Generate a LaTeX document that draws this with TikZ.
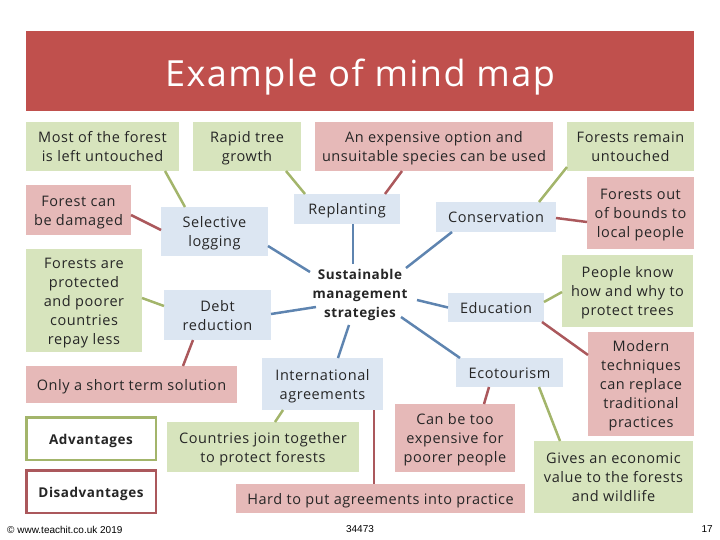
\documentclass[tikz,border=0pt]{standalone}
\usepackage{fontspec}
\setmainfont[LetterSpace=4]{Open Sans}
\newfontfamily\footfont{Liberation Sans}
\usepackage{xcolor}
\definecolor{TITLECOLOR}{HTML}{C0504D}
\definecolor{GREENCOLOR}{HTML}{D7E4BD}
\definecolor{PINKCOLOR}{HTML}{E6B9B8}
\definecolor{BLUECOLOR}{HTML}{DCE6F2}
\definecolor{GREENLINE}{HTML}{A3B56B}
\definecolor{PINKLINE}{HTML}{AB585C}
\definecolor{BLUELINE}{HTML}{5E84B0}
\newcommand{\topstrut}{\vrule height16.9pt depth0pt width0pt}
\usetikzlibrary{positioning}
\tikzset{
  text-style/.style = {
    align=center, text=black!85,
    font=\fontsize{14.5}{19}\selectfont,
    execute at end node=\strut
  },
  basic-style/.style = {
    rectangle, fill=#1, inner sep=0pt, outer sep=0pt, text-style
  },
  green-style/.style = {
    basic-style=GREENCOLOR
  },
  pink-style/.style = {
    basic-style=PINKCOLOR
  },
  blue-style/.style = {
    basic-style=BLUECOLOR
  },
  key-style/.style = {
    rectangle, draw=#1, line width=2.5pt, fill=white, outer sep=0pt,
    minimum width=129.5pt, minimum height=42.5pt, inner sep=0pt,
    text-style, font=\fontsize{13.5}{19}\selectfont\bfseries
  },
  foot-style/.style = {
    inner sep=0pt, font=\footfont\fontsize{10}{11}\selectfont
  },
  green-line/.style = {draw=GREENLINE, line width=2.5pt},
  pink-line/.style = {draw=PINKLINE, line width=2.5pt},
  blue-line/.style = {draw=BLUELINE, line width=2.5pt}
}
\begin{document}
\begin{tikzpicture}[x=1pt,y=-1pt]
    \useasboundingbox (0,0) rectangle (720,540);

    %%% title
    \node[rectangle,fill=TITLECOLOR,inner sep=0pt,outer sep=0pt,text=white,font=\fontsize{36}{44}\selectfont,
      text height=38pt,text depth=7pt,minimum width=668pt,minimum height=80pt] (title) at (360,71) {Example of mind map};

    %%% top row
    \node[green-style,below=11pt of title.south west,anchor=north west,minimum width=153pt,minimum height=49pt] (most) {\topstrut Most of the forest\\is left untouched};
    \node[green-style,right=14pt of most,minimum width=108pt,minimum height=49pt] (rapid) {\topstrut Rapid tree\\growth};
    \node[pink-style,right=14pt of rapid,minimum width=238pt,minimum height=49pt] (expensive) {\topstrut An expensive option and\\unsuitable species can be used};
    \node[green-style,right=14pt of expensive,minimum width=127pt,minimum height=49pt] (remain) {\topstrut Forests remain\\untouched};

    %%% left column
    \node[pink-style,below=14pt of most.south west,anchor=north west,minimum width=105pt,minimum height=50pt] (damaged) {\topstrut Forest can\\be damaged};
    \node[green-style,below=14pt of damaged.south west,anchor=north west,minimum width=116pt,minimum height=103pt] (protected) {\topstrut Forests are\\protected\\and poorer\\countries\\repay less};
    \node[pink-style,below=14pt of protected.south west,anchor=north west,minimum width=211pt,minimum height=37pt] (shortterm) {\topstrut Only a short term solution};

    %%% strategies
    \node[blue-style,below right=36pt and -18pt of most.south east,minimum width=107pt,minimum height=49pt] (selective) {\topstrut Selective\\logging};
    \node[blue-style,below right=34pt and 3pt of selective.south west,minimum width=107pt,minimum height=50pt] (debt) {\topstrut Debt\\reduction};
    \node[blue-style,below right=23pt and -7pt of rapid.south east,minimum width=106pt,minimum height=30pt] (replanting) {\topstrut Replanting};
    \node[blue-style,below right=31pt and -117pt of expensive.south east,minimum width=120pt,minimum height=30pt] (conservation) {\topstrut Conservation};
    \node[blue-style,below right=61pt and 12pt of conservation.south west,minimum width=96pt,minimum height=29pt] (education) {\topstrut Education};
    \node[blue-style,below right=36pt and 8pt of education.south west,minimum width=107pt,minimum height=29pt] (ecotourism) {\topstrut Ecotourism};
    \node[blue-style,below right=18pt and -9pt of debt.south east,minimum width=121pt,minimum height=52pt] (international) {\topstrut International\\agreements};

    %%% centre
    \node[text-style,inner sep=0pt,outer sep=0pt,minimum width=100pt,minimum height=63pt,
      font=\fontsize{13.5}{19}\selectfont\bfseries,below right=37.5pt and 16pt of replanting.south west] (sustainable) {\topstrut Sustainable\\management\\strategies};

    %%% right column
    \node[pink-style,below left=6pt and 0pt of remain.south east,minimum width=107pt,minimum height=72pt] (outbounds) {\topstrut Forests out\\of bounds to\\local people};
    \node[green-style,below left=6pt and 1pt of outbounds.south east,minimum width=131pt,minimum height=72pt] (people) {\topstrut People know\\how and why to\\protect trees};
    \node[pink-style,below left=5pt and -1pt of people.south east,minimum width=106pt,minimum height=104pt] (modern) {\topstrut Modern\\techniques\\can replace\\traditional\\practices};
    \node[green-style,below left=5pt and 1pt of modern.south east,minimum width=159pt,minimum height=72pt] (gives) {\topstrut Gives an economic\\value to the forests\\and wildlife};

    %%% bottom
    \node[key-style=GREENLINE,below right=14.25pt and 0.25pt of shortterm.south west] (advantages) {\topstrut Advantages};
    \node[key-style=PINKLINE,below=10.5pt of advantages] (disadvantages) {\topstrut Disadvantages};
    \node[green-style,below right=19pt and -70pt of shortterm.south east,minimum width=192pt,minimum height=50pt] (countries) {\topstrut Countries join together\\to protect forests};
    \node[pink-style,below right=17pt and -61pt of ecotourism.south west,minimum width=120pt,minimum height=68pt] (toodear) {\topstrut Can be too\\expensive for\\poorer people};
    \node[pink-style,below right=12pt and -123pt of countries.south east,minimum width=289pt,minimum height=29pt] (hard) {\topstrut Hard to put agreements into practice};

    %%% footer
    \node[foot-style,anchor=west] (copyright) at (7,529.5) {\textcopyright{} www.teachit.co.uk 2019};
    \node[foot-style] (code) at (360,529.5) {34473};
    \node[foot-style,anchor=east] (page) at (713,529.5) {17};

    %%% arrows
    % centre to strategies
    \draw[blue-line] ([xshift=-50pt,yshift=21pt]sustainable.center) -- ([yshift=-14.5pt]selective.east);
    \draw[blue-line] ([xshift=-7pt,yshift=29pt]sustainable.center) -- ([xshift=6pt]replanting.south);
    \draw[blue-line] ([xshift=-44pt,yshift=-14pt]sustainable.center) -- ([yshift=1pt]debt.east);
    \draw[blue-line] ([xshift=-11pt,yshift=-32pt]sustainable.center) -- ([xshift=15.5pt]international.north);
    \draw[blue-line] ([xshift=46pt,yshift=25pt]sustainable.center) -- ([xshift=-44pt]conservation.south);
    \draw[blue-line] ([xshift=57pt,yshift=-7pt]sustainable.center) -- (education.west);
    \draw[blue-line] ([xshift=41pt,yshift=-24pt]sustainable.center) -- ([xshift=-49.5pt]ecotourism.north);
    % advantages
    \draw[green-line] ([xshift=62.5pt]most.south) -- ([xshift=-29.5pt]selective.north);
    \draw[green-line] ([xshift=39pt]rapid.south) -- ([xshift=-42pt]replanting.north);
    \draw[green-line] ([yshift=2.5pt]protected.east) -- ([yshift=9pt]debt.west);
    \draw[green-line] ([xshift=-39.5pt]international.south) -- ([xshift=12pt]countries.north);
    \draw[green-line] ([xshift=43pt]conservation.north) -- ([yshift=-20.5pt]remain.west);
    \draw[green-line] ([yshift=5.5pt]education.east) -- ([yshift=-1pt]people.west);
    \draw[green-line] ([xshift=29.5pt]ecotourism.south) -- ([xshift=-53.5pt]gives.north);
    % disadvantages
    \draw[pink-line] ([xshift=-32pt]expensive.south) -- ([xshift=38pt]replanting.north);
    \draw[pink-line] ([yshift=-5pt]damaged.east) -- ([yshift=1.5pt]selective.west);
    \draw[pink-line] ([xshift=-24.5pt]debt.south) -- ([xshift=51.5pt]shortterm.north);
    \draw[pink-line] ([xshift=51.5pt]international.south) -- ([xshift=-6.5pt]hard.north);
    \draw[pink-line] ([yshift=-1pt]conservation.east) -- ([yshift=-9pt]outbounds.west);
    \draw[pink-line] ([xshift=46pt]education.south) -- ([yshift=29pt]modern.west);
    \draw[pink-line] ([xshift=-20.5pt]ecotourism.south) -- ([xshift=29pt]toodear.north);
\end{tikzpicture}
\end{document}
